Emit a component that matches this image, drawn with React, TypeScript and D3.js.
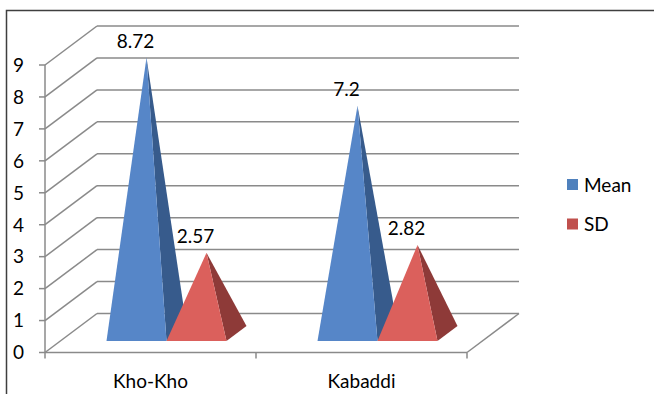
import React from 'react';
import * as d3 from 'd3';

// Chart data
const categories = ['Kho-Kho', 'Kabaddi'];
const seriesNames = ['Mean', 'SD'];
const meanValues = [8.72, 7.2];
const sdValues = [2.57, 2.82];
const yTicks = [0, 1, 2, 3, 4, 5, 6, 7, 8, 9];

const W = 654;
const H = 394;

// Colours per series: front face, side face, legend swatch
const frontFill = ['#5686c8', '#db605c'];
const sideFill = ['#375b8c', '#8e3a38'];
const legendFill = ['#4f81bd', '#c0504d'];

const FONT = 'Lato, "Liberation Sans", sans-serif';
const GRID = '#8a8a8a';

export default function App() {
  // front plane of the 3-D box
  const x = d3.scaleBand<string>().domain(categories).range([45, 467]).padding(0);
  const y = d3.scaleLinear().domain([0, 9]).range([352.5, 65]);
  // depth offset of the back wall
  const depthX = 52;
  const depthY = -39;
  // pyramid apex height at mid depth
  const apexY = d3.scaleLinear().domain([0, 9]).range([334.5, 48.5]);

  const pyrW = 60;
  const baseY = 341;
  const baseDX = 20;
  const baseDY = -15;

  const series = [meanValues, sdValues];
  const left = x.range()[0];
  const right = x.range()[1];
  const backLeft = left + depthX;
  const backRight = right + depthX;

  const pyramids: React.ReactNode[] = [];
  const labels: React.ReactNode[] = [];
  categories.forEach((c, ci) => {
    const center = (x(c) as number) + x.bandwidth() / 2;
    const start = center + 16 - pyrW * series.length / 2;
    series.forEach((vals, si) => {
      const v = vals[ci];
      const x0 = start + si * pyrW;
      const fl: [number, number] = [x0, baseY];
      const fr: [number, number] = [x0 + pyrW, baseY];
      const br: [number, number] = [x0 + pyrW + baseDX, baseY + baseDY];
      const ax = x0 + pyrW / 2 + baseDX / 2;
      const ay = apexY(v);
      const ap: [number, number] = [ax, ay];
      const line = d3.line();
      pyramids.push(
        <g key={`${c}-${si}`}>
          <path d={line([fr, br, ap])! + 'Z'} fill={sideFill[si]} />
          <path d={line([fl, fr, ap])! + 'Z'} fill={frontFill[si]} />
        </g>
      );
      labels.push(
        <text
          key={`l-${c}-${si}`}
          x={ax - 11}
          y={ay - 9.5}
          textAnchor="middle"
          fontFamily={FONT}
          fontSize={19}
          fill="#000"
        >
          {String(v)}
        </text>
      );
    });
  });

  return (
    <svg
      width={W}
      height={H}
      style={{ position: 'absolute', left: 0, top: 0, background: '#fff' }}
    >
      <rect x={0} y={0} width={W} height={H} fill="#fff" />
      {/* outer frame */}
      <path d={`M6.5,${H} V10.5 H${W}`} fill="none" stroke="#3f3f3f" strokeWidth={1.5} />

      {/* back wall gridlines and side diagonals */}
      {yTicks.map((t) => (
        <g key={`g${t}`}>
          <line x1={backLeft} x2={backRight} y1={y(t) + depthY} y2={y(t) + depthY} stroke={GRID} strokeWidth={1.5} />
          <line x1={left} x2={backLeft} y1={y(t)} y2={y(t) + depthY} stroke={GRID} strokeWidth={1.5} />
        </g>
      ))}
      {/* floor right edge */}
      <line x1={right} y1={y(0)} x2={backRight} y2={y(0) + depthY} stroke={GRID} strokeWidth={1.5} />

      {/* front axes */}
      <line x1={left} x2={left} y1={y(9)} y2={y(0)} stroke={GRID} strokeWidth={1.5} />
      <line x1={left} x2={right} y1={y(0)} y2={y(0)} stroke={GRID} strokeWidth={1.5} />
      {yTicks.map((t) => (
        <line key={`t${t}`} x1={left - 6} x2={left} y1={y(t)} y2={y(t)} stroke={GRID} strokeWidth={1.5} />
      ))}
      {[left, ...categories.map((c) => (x(c) as number) + x.bandwidth())].map((px, i) => (
        <line key={`xt${i}`} x1={px} x2={px} y1={y(0)} y2={y(0) + 6} stroke={GRID} strokeWidth={1.5} />
      ))}

      {pyramids}
      {labels}

      {/* y tick labels */}
      {yTicks.map((t) => (
        <text
          key={`yl${t}`}
          x={24}
          y={y(t) + 2}
          textAnchor="end"
          dominantBaseline="middle"
          fontFamily={FONT}
          fontSize={19}
          fill="#000"
        >
          {t}
        </text>
      ))}

      {/* category labels */}
      {categories.map((c) => (
        <text
          key={`c${c}`}
          x={(x(c) as number) + x.bandwidth() / 2}
          y={388}
          textAnchor="middle"
          fontFamily={FONT}
          fontSize={19}
          fill="#000"
        >
          {c}
        </text>
      ))}

      {/* legend */}
      {seriesNames.map((s, i) => (
        <g key={`lg${s}`} transform={`translate(567, ${179 + i * 39.5})`}>
          <rect x={0} y={0} width={11} height={11} fill={legendFill[i]} />
          <text x={17} y={12.5} fontFamily={FONT} fontSize={19} fill="#000">
            {s}
          </text>
        </g>
      ))}
    </svg>
  );
}
